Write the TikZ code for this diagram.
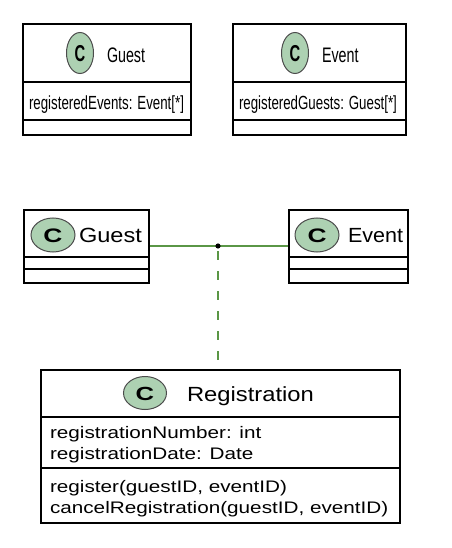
\documentclass[tikz,border=0pt]{standalone}
\usepackage{fontspec}
\usepackage{graphicx}
\setmainfont{Liberation Sans}
\definecolor{cfill}{RGB}{173,209,178}
\definecolor{assoc}{RGB}{90,150,70}
\newcommand\utxt[3]{\scalebox{#2}[1]{\fontsize{#1}{#1}\selectfont #3}}
\tikzset{
  box/.style={draw=black, line width=1.8pt},
  sep/.style={draw=black, line width=1.5pt},
  cmark/.style={draw=black!70, line width=1pt, fill=cfill},
  lbl/.style={anchor=base west, inner sep=0pt, outer sep=0pt},
  clbl/.style={anchor=center, inner sep=0pt, outer sep=0pt},
}
\begin{document}
\begin{tikzpicture}[x=1pt,y=-1pt]
\useasboundingbox (0,0) rectangle (451,548);
% ---- top Guest
\draw[box] (23,24) rectangle (191,135);
\draw[sep] (23,82) -- (191,82);
\draw[sep] (23,120) -- (191,120);
\draw[cmark] (80,53) ellipse [x radius=13.5, y radius=20.5];
\node[clbl] (tgc) at (80,54) {\utxt{23}{0.64}{\bfseries C}};
\node[lbl] (tgt) at (107,63) {\utxt{21}{0.68}{Guest}};
\node[lbl] (tga) at (29,110) {\utxt{19}{0.70}{registeredEvents: Event[*]}};
% ---- top Event
\draw[box] (233,24) rectangle (406,135);
\draw[sep] (233,82) -- (406,82);
\draw[sep] (233,120) -- (406,120);
\draw[cmark] (295,53) ellipse [x radius=13.5, y radius=20.5];
\node[clbl] (tec) at (295,54) {\utxt{23}{0.64}{\bfseries C}};
\node[lbl] (tet) at (322,63) {\utxt{21}{0.68}{Event}};
\node[lbl] (tea) at (239,110) {\utxt{19}{0.70}{registeredGuests: Guest[*]}};
% ---- middle Guest
\node[box, minimum width=125pt, minimum height=73pt, anchor=north west, inner sep=0pt] (guest) at (23,209) {};
\draw[sep] (23,257) -- (148,257);
\draw[sep] (23,269) -- (148,269);
\draw[cmark] (53,235) ellipse [x radius=22, y radius=17];
\node[clbl] (mgc) at (53,236) {\utxt{19.5}{1.35}{\bfseries C}};
\node[lbl] (mgt) at (79,242) {\utxt{20.5}{1.15}{Guest}};
% ---- middle Event
\node[box, minimum width=119pt, minimum height=73pt, anchor=north west, inner sep=0pt] (event) at (288,209) {};
\draw[sep] (288,257) -- (407,257);
\draw[sep] (288,269) -- (407,269);
\draw[cmark] (317,235) ellipse [x radius=22, y radius=17];
\node[clbl] (mec) at (317,236) {\utxt{19.5}{1.35}{\bfseries C}};
\node[lbl] (met) at (348,242) {\utxt{20.5}{1.05}{Event}};
% ---- Registration
\node[box, minimum width=359pt, minimum height=153pt, anchor=north west, inner sep=0pt] (reg) at (40,369) {};
\draw[sep] (40,417) -- (399,417);
\draw[sep] (40,468) -- (399,468);
\draw[cmark] (145,393) ellipse [x radius=21.5, y radius=16.5];
\node[clbl] (rc) at (145,394) {\utxt{19}{1.35}{\bfseries C}};
\node[lbl] (rt) at (187,401) {\utxt{20.5}{1.16}{Registration}};
\node[lbl] (ra1) at (50,438) {\utxt{16.7}{1.24}{registrationNumber: int}};
\node[lbl] (ra2) at (50,459) {\utxt{16.7}{1.24}{registrationDate: Date}};
\node[lbl] (ro1) at (50,492) {\utxt{16.7}{1.24}{register(guestID, eventID)}};
\node[lbl] (ro2) at (50,513) {\utxt{16.7}{1.24}{cancelRegistration(guestID, eventID)}};
% ---- association
\coordinate (mid) at (218,246);
\draw[assoc, line width=1.1pt] (guest.east |- mid) -- (event.west |- mid);
\draw[assoc, line width=1.1pt, dash pattern=on 9pt off 11pt, dash phase=-5pt] (mid) -- (reg.north -| mid);
\fill[black] (mid) circle (2.6pt);
\end{tikzpicture}
\end{document}
